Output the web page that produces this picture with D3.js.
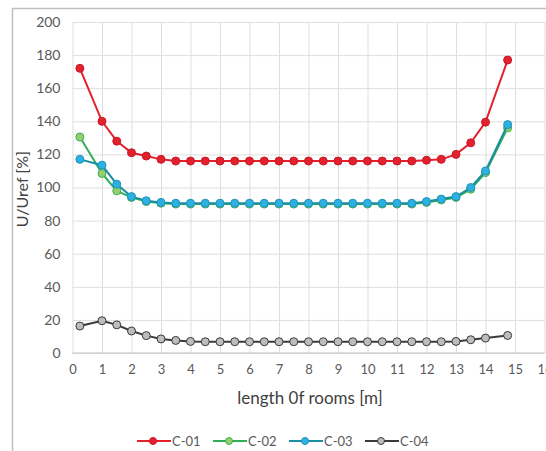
<!DOCTYPE html>
<html>
<head>
<meta charset="utf-8">
<script src="https://cdn.jsdelivr.net/npm/d3@7"></script>
<style>
  body { margin: 0; background: #fff; }
  svg { display: block; font-family: Lato, "Open Sans", sans-serif; }
</style>
</head>
<body>
<div id="wrapper"></div>
<script>
// room length [m]
const lengths = [0.25, 1, 1.5, 2, 2.5, 3, 3.5, 4, 4.5, 5, 5.5, 6, 6.5, 7, 7.5, 8, 8.5, 9, 9.5, 10, 10.5, 11, 11.5, 12, 12.5, 13, 13.5, 14, 14.75]

const c01 = [172, 140, 128, 121, 119, 117, 116, 116, 116, 116, 116, 116, 116, 116, 116, 116, 116, 116, 116, 116, 116, 116, 116, 116.5, 117, 120, 127, 139.5, 177]
const c02 = [130.5, 108.5, 98, 94, 91.5, 90.5, 90, 90, 90, 90, 90, 90, 90, 90, 90, 90, 90, 90, 90, 90, 90, 90, 90, 91, 92.5, 94, 99, 109, 136]
const c03 = [117, 113.5, 102, 94.5, 92, 91, 90.5, 90.5, 90.5, 90.5, 90.5, 90.5, 90.5, 90.5, 90.5, 90.5, 90.5, 90.5, 90.5, 90.5, 90.5, 90.5, 90.5, 91.5, 93, 94.5, 100, 110, 138]
const c04 = [16.3, 19.5, 17, 13.3, 10.5, 8.5, 7.6, 7, 6.8, 6.8, 6.8, 6.8, 6.8, 6.8, 6.8, 6.8, 6.8, 6.8, 6.8, 6.8, 6.8, 6.8, 6.8, 6.8, 6.8, 7, 8, 9, 10.6]

const seriesNames = ["C-01", "C-02", "C-03", "C-04"]
const xTicks = [0, 1, 2, 3, 4, 5, 6, 7, 8, 9, 10, 11, 12, 13, 14, 15, 16]
const yTicks = [0, 20, 40, 60, 80, 100, 120, 140, 160, 180, 200]

const styles = {
  "C-01": { line: "#e3212d", fill: "#e3212d", stroke: "#c8192a" },
  "C-02": { line: "#2fae57", fill: "#96cf6e", stroke: "#3fae55" },
  "C-03": { line: "#1b8ea3", fill: "#2db0e3", stroke: "#1e93b8" },
  "C-04": { line: "#3a3a3a", fill: "#bdbdbd", stroke: "#3a3a3a" },
}

const allSeries = [c01, c02, c03, c04].map((vals, i) => ({
  name: seriesNames[i],
  points: vals.map((v, j) => ({ x: lengths[j], y: v })),
}))

const dimensions = {
  width: 546,
  height: 451,
  margin: { top: 22, right: 1.5, bottom: 98, left: 72.5 },
}
dimensions.boundedWidth = dimensions.width - dimensions.margin.left - dimensions.margin.right
dimensions.boundedHeight = dimensions.height - dimensions.margin.top - dimensions.margin.bottom

const svg = d3.select("#wrapper").append("svg")
  .attr("width", dimensions.width)
  .attr("height", dimensions.height)

// chart frame
svg.append("rect")
  .attr("x", 12.5).attr("y", 8.5)
  .attr("width", dimensions.width).attr("height", dimensions.height)
  .attr("fill", "#fff")
  .attr("stroke", "#bfbfbf")
  .attr("stroke-width", 1.5)

const bounds = svg.append("g")
  .attr("transform", `translate(${dimensions.margin.left},${dimensions.margin.top})`)

const xScale = d3.scaleLinear().domain([0, 16]).range([0, dimensions.boundedWidth])
const yScale = d3.scaleLinear().domain([0, 200]).range([dimensions.boundedHeight, 0])

// gridlines
bounds.append("g")
  .call(d3.axisLeft(yScale).tickValues(yTicks).tickSize(-dimensions.boundedWidth).tickFormat(""))
  .call(g => g.select(".domain").remove())
  .call(g => g.selectAll("line").attr("stroke", "#dedede"))

bounds.append("g")
  .attr("transform", `translate(0,${dimensions.boundedHeight})`)
  .call(d3.axisBottom(xScale).tickValues(xTicks).tickSize(-dimensions.boundedHeight).tickFormat(""))
  .call(g => g.select(".domain").remove())
  .call(g => g.selectAll("line").attr("stroke", "#dedede"))

// x axis line
bounds.append("line")
  .attr("x1", 0).attr("x2", dimensions.boundedWidth)
  .attr("y1", dimensions.boundedHeight).attr("y2", dimensions.boundedHeight)
  .attr("stroke", "#c4c4c4").attr("stroke-width", 1.2)

// tick labels
bounds.append("g")
  .call(d3.axisLeft(yScale).tickValues(yTicks).tickSize(0).tickPadding(12))
  .call(g => g.select(".domain").remove())
  .call(g => g.selectAll("text")
    .attr("fill", "#595959")
    .style("font-size", "14px")
    .style("font-family", "Lato, sans-serif"))

bounds.append("g")
  .attr("transform", `translate(0,${dimensions.boundedHeight})`)
  .call(d3.axisBottom(xScale).tickValues(xTicks).tickSize(0).tickPadding(12))
  .call(g => g.select(".domain").remove())
  .call(g => g.selectAll("text")
    .attr("fill", "#595959")
    .style("font-size", "13px")
    .style("font-family", "Lato, sans-serif"))

// axis titles
svg.append("text")
  .attr("x", dimensions.margin.left + xScale(8.05))
  .attr("y", 404)
  .attr("text-anchor", "middle")
  .attr("fill", "#404040")
  .style("font-size", "17px")
  .text("length 0f rooms [m]")

svg.append("text")
  .attr("transform", `translate(28,${dimensions.margin.top + yScale(99)}) rotate(-90)`)
  .attr("text-anchor", "middle")
  .attr("fill", "#404040")
  .style("font-size", "16px")
  .text("U/Uref [%]")

// series
const lineGen = d3.line().x(d => xScale(d.x)).y(d => yScale(d.y))

const seriesGroup = bounds.selectAll(".series")
  .data(allSeries)
  .join("g")
  .attr("class", "series")

seriesGroup.append("path")
  .attr("d", d => lineGen(d.points))
  .attr("fill", "none")
  .attr("stroke", d => styles[d.name].line)
  .attr("stroke-width", 2)

seriesGroup.selectAll("circle")
  .data(d => d.points.map(p => ({ ...p, name: d.name })))
  .join("circle")
  .attr("cx", d => xScale(d.x))
  .attr("cy", d => yScale(d.y))
  .attr("r", 4)
  .attr("fill", d => styles[d.name].fill)
  .attr("stroke", d => styles[d.name].stroke)
  .attr("stroke-width", 1)

// legend
const legendGroup = svg.append("g").attr("transform", "translate(137,441)")
const legendItems = legendGroup.selectAll("g")
  .data(seriesNames)
  .join("g")
  .attr("transform", (d, i) => `translate(${i * 76},0)`)

legendItems.append("line")
  .attr("x1", 0).attr("x2", 34)
  .attr("stroke", d => styles[d].line)
  .attr("stroke-width", 2)
legendItems.append("circle")
  .attr("cx", 16).attr("r", 3.5)
  .attr("fill", d => styles[d].fill)
  .attr("stroke", d => styles[d].stroke)
legendItems.append("text")
  .attr("x", 35)
  .attr("dy", "0.35em")
  .attr("fill", "#595959")
  .style("font-size", "13px")
  .text(d => d)
</script>
</body>
</html>
